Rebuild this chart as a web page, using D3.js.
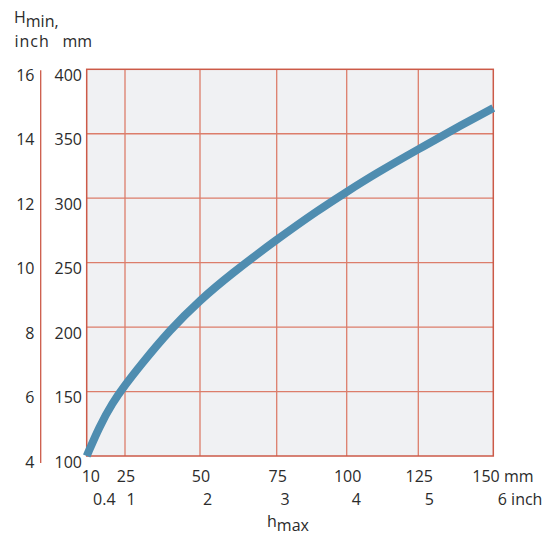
<!DOCTYPE html>
<html>
<head>
<meta charset="utf-8">
<script src="https://cdn.jsdelivr.net/npm/d3@7"></script>
<style>
  body { margin: 0; background: #fff; }
  svg text { font-family: "Open Sans", "Noto Sans", sans-serif; fill: #2b2b2b; }
</style>
</head>
<body>
<svg id="chart" width="558" height="536"></svg>
<script>
// h max (mm) and the matching H min (mm)
var hMax = [10, 15, 20, 25, 30, 40, 50, 60, 75, 90, 100, 110, 125, 140, 150];
var hMin = [100, 123, 141, 155, 170, 198, 221, 241, 268, 291, 305, 319, 338, 357.5, 370];

// axis ticks
var xTicksMm = [10, 25, 50, 75, 100, 125, 150];
var xTicksInch = [0.4, 1, 2, 3, 4, 5, 6];
var yTicksMm = [100, 150, 200, 250, 300, 350, 400];
var yTicksInch = [4, 6, 8, 10, 12, 14, 16];

var svg = d3.select("#chart");

// the printed grid is not quite even, so the x scale goes through each grid line
var x = d3.scaleLinear()
	.domain(xTicksMm)
	.range([86.7, 125, 200, 276.7, 346.7, 418.3, 493.3]);

var y = d3.scaleLinear()
	.domain([100, 400])
	.range([456, 69.3]);

var yInch = d3.scaleLinear()
	.domain([4, 16])
	.range(y.range());

var pLeft = x(10), pRight = x(150), pTop = y(400), pBottom = y(100);

// plot background
svg.append("rect")
	.attr("x", pLeft).attr("y", pTop)
	.attr("width", pRight - pLeft).attr("height", pBottom - pTop)
	.attr("fill", "#f0f1f3");

// grid
var grid = svg.append("g").attr("class", "grid")
	.attr("stroke", "#dc7d6a")
	.attr("stroke-width", 1.3);

grid.selectAll("line.gx")
	.data(xTicksMm.slice(1, -1))
	.enter().append("line")
	.attr("class", "gx")
	.attr("x1", function(d) { return x(d); })
	.attr("x2", function(d) { return x(d); })
	.attr("y1", pTop).attr("y2", pBottom);

grid.selectAll("line.gy")
	.data(yTicksMm.slice(1, -1))
	.enter().append("line")
	.attr("class", "gy")
	.attr("x1", pLeft).attr("x2", pRight)
	.attr("y1", function(d) { return y(d); })
	.attr("y2", function(d) { return y(d); });

// frame
svg.append("rect")
	.attr("x", pLeft).attr("y", pTop)
	.attr("width", pRight - pLeft).attr("height", pBottom - pTop)
	.attr("fill", "none")
	.attr("stroke", "#cc5a48")
	.attr("stroke-width", 1.5);

// separate inch axis line
svg.append("line")
	.attr("x1", 40.7).attr("x2", 40.7)
	.attr("y1", pTop + 1).attr("y2", pBottom + 7)
	.attr("stroke", "#cc5a48")
	.attr("stroke-width", 1.3);

// curve
var line = d3.line()
	.x(function(d) { return x(d[0]); })
	.y(function(d) { return y(d[1]); })
	.curve(d3.curveBasis);

svg.append("path")
	.datum(d3.zip(hMax, hMin))
	.attr("d", line)
	.attr("fill", "none")
	.attr("stroke", "#4f8db0")
	.attr("stroke-width", 8)
	.attr("stroke-linecap", "butt");

// y labels
svg.selectAll("text.ymm")
	.data(yTicksMm)
	.enter().append("text")
	.attr("class", "ymm")
	.attr("x", 82)
	.attr("y", function(d) { return y(d) + 11.5; })
	.attr("text-anchor", "end")
	.attr("font-size", 16)
	.text(function(d) { return d; });

svg.selectAll("text.yin")
	.data(yTicksInch)
	.enter().append("text")
	.attr("class", "yin")
	.attr("x", 34.5)
	.attr("y", function(d) { return yInch(d) + 11.5; })
	.attr("text-anchor", "end")
	.attr("font-size", 16)
	.text(function(d) { return d; });

// x labels, mm row
var last = xTicksMm.length - 1;
svg.selectAll("text.xmm")
	.data(xTicksMm)
	.enter().append("text")
	.attr("class", "xmm")
	.attr("x", function(d, i) {
		if (i === 0) return x(d) - 5;
		if (i === last) return x(d) - 21;
		return x(d) + 1;
	})
	.attr("y", 482)
	.attr("text-anchor", function(d, i) { return (i === 0 || i === last) ? "start" : "middle"; })
	.attr("font-size", 16)
	.text(function(d, i) { return i === last ? d + " mm" : d; });

// x labels, inch row
var lastIn = xTicksInch.length - 1;
svg.selectAll("text.xin")
	.data(xTicksInch)
	.enter().append("text")
	.attr("class", "xin")
	.attr("x", function(d, i) {
		if (i === 0) return x(d * 25.4) + 6;
		if (i === lastIn) return x(150) + 4.5;
		return x(d * 25.4) + 5;
	})
	.attr("y", 505)
	.attr("text-anchor", function(d, i) { return (i === 0 || i === lastIn) ? "start" : "middle"; })
	.attr("font-size", 16)
	.text(function(d, i) { return i === lastIn ? d + " inch" : d; });

// axis titles
var yTitle = svg.append("text")
	.attr("x", 14).attr("y", 23)
	.attr("font-size", 16);
yTitle.append("tspan").text("H");
yTitle.append("tspan").attr("dy", 3.5).text("min,");

svg.append("text")
	.attr("x", 14.5).attr("y", 47)
	.attr("font-size", 16)
	.attr("letter-spacing", 1)
	.text("inch");

svg.append("text")
	.attr("x", 62.5).attr("y", 47)
	.attr("font-size", 16)
	.text("mm");

var xTitle = svg.append("text")
	.attr("x", 267).attr("y", 527)
	.attr("font-size", 16);
xTitle.append("tspan").text("h");
xTitle.append("tspan").attr("dy", 3.5).text("max");
</script>
</body>
</html>
